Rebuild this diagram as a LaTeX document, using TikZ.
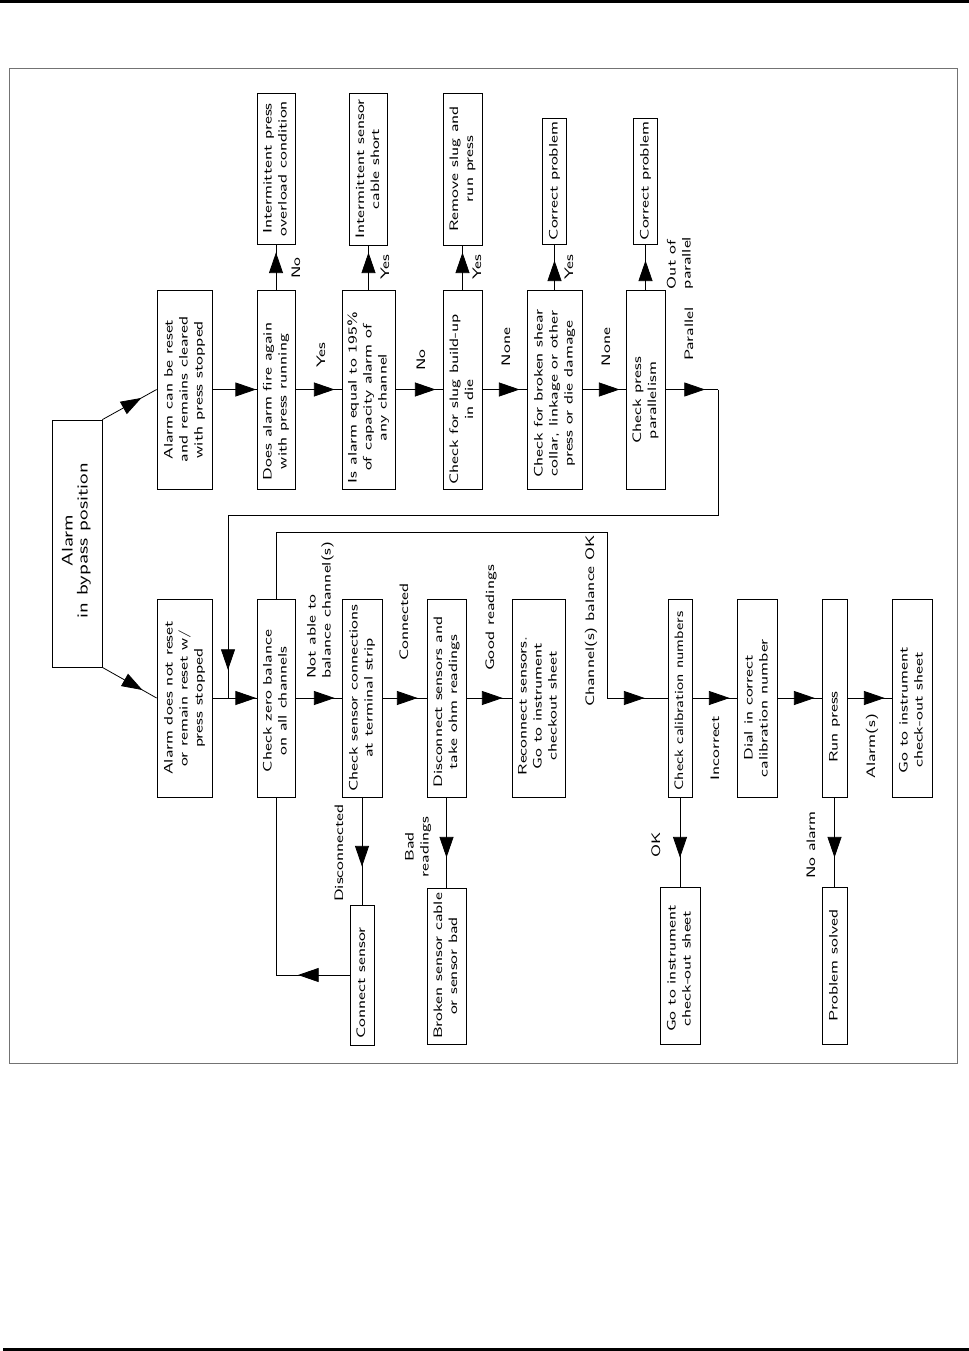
\documentclass[tikz,border=0pt]{standalone}
\usepackage{graphicx}
\usetikzlibrary{arrows.meta,decorations.markings,calc}
\newcommand\cadtxt[2][c]{\scalebox{1.4}[1]{\begin{tabular}{@{}#1@{}}#2\end{tabular}}}
\newcommand\cadtxtnarrow[1]{\scalebox{1.28}[1]{\begin{tabular}{@{}c@{}}#1\end{tabular}}}
\tikzset{
  box/.style 2 args={draw, rectangle, inner sep=0pt, minimum width=#1*0.75pt, minimum height=#2*0.75pt},
  txt/.style={rotate=90, inner sep=0pt, font=\sffamily\fontsize{9.2}{11.25}\selectfont},
  headtip/.tip={Triangle[length=15.5pt,width=10.5pt]},
  gapto/.style={postaction={decorate, decoration={markings, mark=at position -#1*0.75pt with {\arrow{headtip}}}}},
  midarrow/.style={postaction={decorate, decoration={markings, mark=at position #1 with {\arrow{headtip}}}}}
}
\begin{document}
\begin{tikzpicture}[x=0.75pt,y=-0.75pt,line width=0.6pt]
\useasboundingbox (0,0) rectangle (969,1351);
% page rules and frame
\fill (0,0) rectangle (969,3.5);
\fill (3,1347.5) rectangle (969,1351);
\draw[black!55, line width=0.5pt] (9,68) rectangle (957,1063);

% start box
\node[box={50}{247}] (bp) at (77,543.5) {};
\node[txt, font=\sffamily\fontsize{11.5}{11.25}\selectfont] at ($(bp)+(0,-3)$) {\cadtxt{Alarm\\in bypass position}};

% top row
\node[box={55}{199}] (a1) at (184.5,389.5) {};
\node[txt] at (a1) {\cadtxt{Alarm can be reset\\and remains cleared\\with press stopped}};
\node[box={38}{199}] (a2) at (276,389.5) {};
\node[txt] at ($(a2)+(0,12)$) {\cadtxt{Does alarm fire again\\with press running}};
\node[box={38}{151}] (a3) at (276,168.5) {};
\node[txt] at (a3) {\cadtxt{Intermittent press\\overload condition}};
\node[box={53}{199}] (a4) at (368.5,389.5) {};
\node[txt] at ($(a4)+(0,8)$) {\cadtxt{Is alarm equal to 195\%\\of capacity alarm of\\any channel}};
\node[box={38}{152}] (a5) at (368.5,169) {};
\node[txt] at (a5) {\cadtxt{Intermittent sensor\\cable short}};
\node[box={39}{199}] (a6) at (462.5,389.5) {};
\node[txt] at ($(a6)+(0,10)$) {\cadtxt{Check for slug build-up\\in die}};
\node[box={39}{152}] (a7) at (462.5,169) {};
\node[txt] at (a7) {\cadtxt{Remove slug and\\run press}};
\node[box={55}{199}] (a8) at (554.5,389.5) {};
\node[txt] at ($(a8)+(0,4)$) {\cadtxt{Check for broken shear\\collar, linkage or other\\press or die damage}};
\node[box={24}{126}] (a9) at (554.5,181) {};
\node[txt] at (a9) {\cadtxt{Correct problem}};
\node[box={39}{199}] (a10) at (645.5,389.5) {};
\node[txt] at ($(a10)+(0,11)$) {\cadtxt{Check press\\parallelism}};
\node[box={24}{126}] (a11) at (645.5,181) {};
\node[txt] at (a11) {\cadtxt{Correct problem}};

% bottom row
\node[box={55}{198}] (b1) at (184.5,698) {};
\node[txt] at (b1) {\cadtxt{Alarm does not reset\\or remain reset w/\\press stopped}};
\node[box={38}{198}] (b2) at (276,698) {};
\node[txt] at ($(b2)+(0,3)$) {\cadtxt{Check zero balance\\on all channels}};
\node[box={40}{198}] (b3) at (362,698) {};
\node[txt] at (b3) {\cadtxt{Check sensor connections\\at terminal strip}};
\node[box={39}{198}] (b4) at (446.5,698) {};
\node[txt] at ($(b4)+(0,4)$) {\cadtxt{Disconnect sensors and\\take ohm readings}};
\node[box={53}{198}] (b5) at (538.5,698) {};
\node[txt] at ($(b5)+(0,8)$) {\cadtxt{Reconnect sensors.\\Go to instrument\\checkout sheet}};
\node[box={24}{198}] (b6) at (680,698) {};
\node[txt] at ($(b6)+(0,3)$) {\cadtxtnarrow{Check calibration numbers}};
\node[box={40}{198}] (b7) at (757,698) {};
\node[txt] at ($(b7)+(0,10)$) {\cadtxt{Dial in correct\\calibration number}};
\node[box={25}{198}] (b8) at (834.5,698) {};
\node[txt] at ($(b8)+(0,29)$) {\cadtxt{Run press}};
\node[box={40}{198}] (b9) at (912,698) {};
\node[txt] at ($(b9)+(0,12)$) {\cadtxt{Go to instrument\\check-out sheet}};

% lowest boxes
\node[box={24}{140}] (c1) at (362,975) {};
\node[txt] at ($(c1)+(0,8)$) {\cadtxt{Connect sensor}};
\node[box={39}{156}] (c2) at (446.5,966) {};
\node[txt] at (c2) {\cadtxt{Broken sensor cable\\or sensor bad}};
\node[box={40}{157}] (c3) at (680,965.5) {};
\node[txt] at ($(c3)+(0,3)$) {\cadtxt{Go to instrument\\check-out sheet}};
\node[box={25}{157}] (c4) at (834.5,965.5) {};
\node[txt] at (c4) {\cadtxt{Problem solved}};

% helper coordinates
\coordinate (r1) at (718,389.5);
\coordinate (r2) at (718,515);
\coordinate (r3) at (228,515);
\coordinate (r4) at (228,698);
\coordinate (s1) at (276,532);
\coordinate (s2) at (607,532);
\coordinate (s3) at (607,698);
\coordinate (k1) at (276,975);

% connectors
\draw[midarrow=0.72] (bp.north east) -- (a1.west);
\draw[midarrow=0.74] (bp.south east) -- (b1.west);

\draw[gapto=0.5] (a1.east) -- (a2.west);
\draw[gapto=7] (a2.east) -- (a4.west);
\draw[gapto=7] (a4.east) -- (a6.west);
\draw[gapto=7] (a6.east) -- (a8.west);
\draw[gapto=6] (a8.east) -- (a10.west);
\draw[gapto=8] (a2.north) -- (a3.south);
\draw[gapto=7] (a4.north) -- (a5.south);
\draw[gapto=7] (a6.north) -- (a7.south);
\draw[gapto=16] (a8.north) -- (a9.south);
\draw[gapto=16] (a10.north) -- (a11.south);

\draw[gapto=13] (a10.east) -- (r1);
\draw (r1) -- (r2) -- (r3);
\draw[gapto=28] (r3) -- (r4);

\draw[gapto=0.5] (b1.east) -- (b2.west);
\draw[gapto=7] (b2.east) -- (b3.west);
\draw[gapto=9] (b3.east) -- (b4.west);
\draw[gapto=9] (b4.east) -- (b5.west);
\draw (b2.north) -- (s1) -- (s2) -- (s3);
\draw[gapto=23] (s3) -- (b6.west);
\draw[gapto=7] (b6.east) -- (b7.west);
\draw[gapto=7] (b7.east) -- (b8.west);
\draw[gapto=7] (b8.east) -- (b9.west);

\draw[gapto=22] (c1.west) -- (k1);
\draw (k1) -- (b2.south);
\draw[gapto=38] (b3.south) -- (c1.north);
\draw[gapto=30] (b4.south) -- (c2.north);
\draw[gapto=29] (b6.south) -- (c3.north);
\draw[gapto=29] (b8.south) -- (c4.north);

% connector labels
\node[txt] (l1) at (322,355) {\cadtxt{Yes}};
\node[txt] (l2) at (422,360) {\cadtxt{No}};
\node[txt] (l3) at (507,347) {\cadtxt{None}};
\node[txt] (l4) at (607,347) {\cadtxt{None}};
\node[txt] (l5) at (690,334) {\cadtxt{Parallel}};
\node[txt] (l6) at (297,268) {\cadtxt{No}};
\node[txt] (l7) at (386,267) {\cadtxt{Yes}};
\node[txt] (l8) at (478,267) {\cadtxt{Yes}};
\node[txt] (l9) at (570,267) {\cadtxt{Yes}};
\node[txt] (l10) at (680,263) {\cadtxt[l]{Out of\\parallel}};
\node[txt] (l11) at (320,610) {\cadtxt[l]{Not able to\\balance channel(s)}};
\node[txt] (l12) at (405,622) {\cadtxt{Connected}};
\node[txt] (l13) at (491,618) {\cadtxt{Good readings}};
\node[txt] (l14) at (591,621) {\cadtxt{Channel(s) balance OK}};
\node[txt] (l15) at (716,748) {\cadtxt{Incorrect}};
\node[txt] (l16) at (872,746) {\cadtxt{Alarm(s)}};
\node[txt] (l17) at (340,853) {\cadtxt{Disconnected}};
\node[txt] (l18) at (418,847) {\cadtxt{Bad\\readings}};
\node[txt] (l19) at (657,845) {\cadtxt{OK}};
\node[txt] (l20) at (812,845) {\cadtxt{No alarm}};
\end{tikzpicture}
\end{document}
